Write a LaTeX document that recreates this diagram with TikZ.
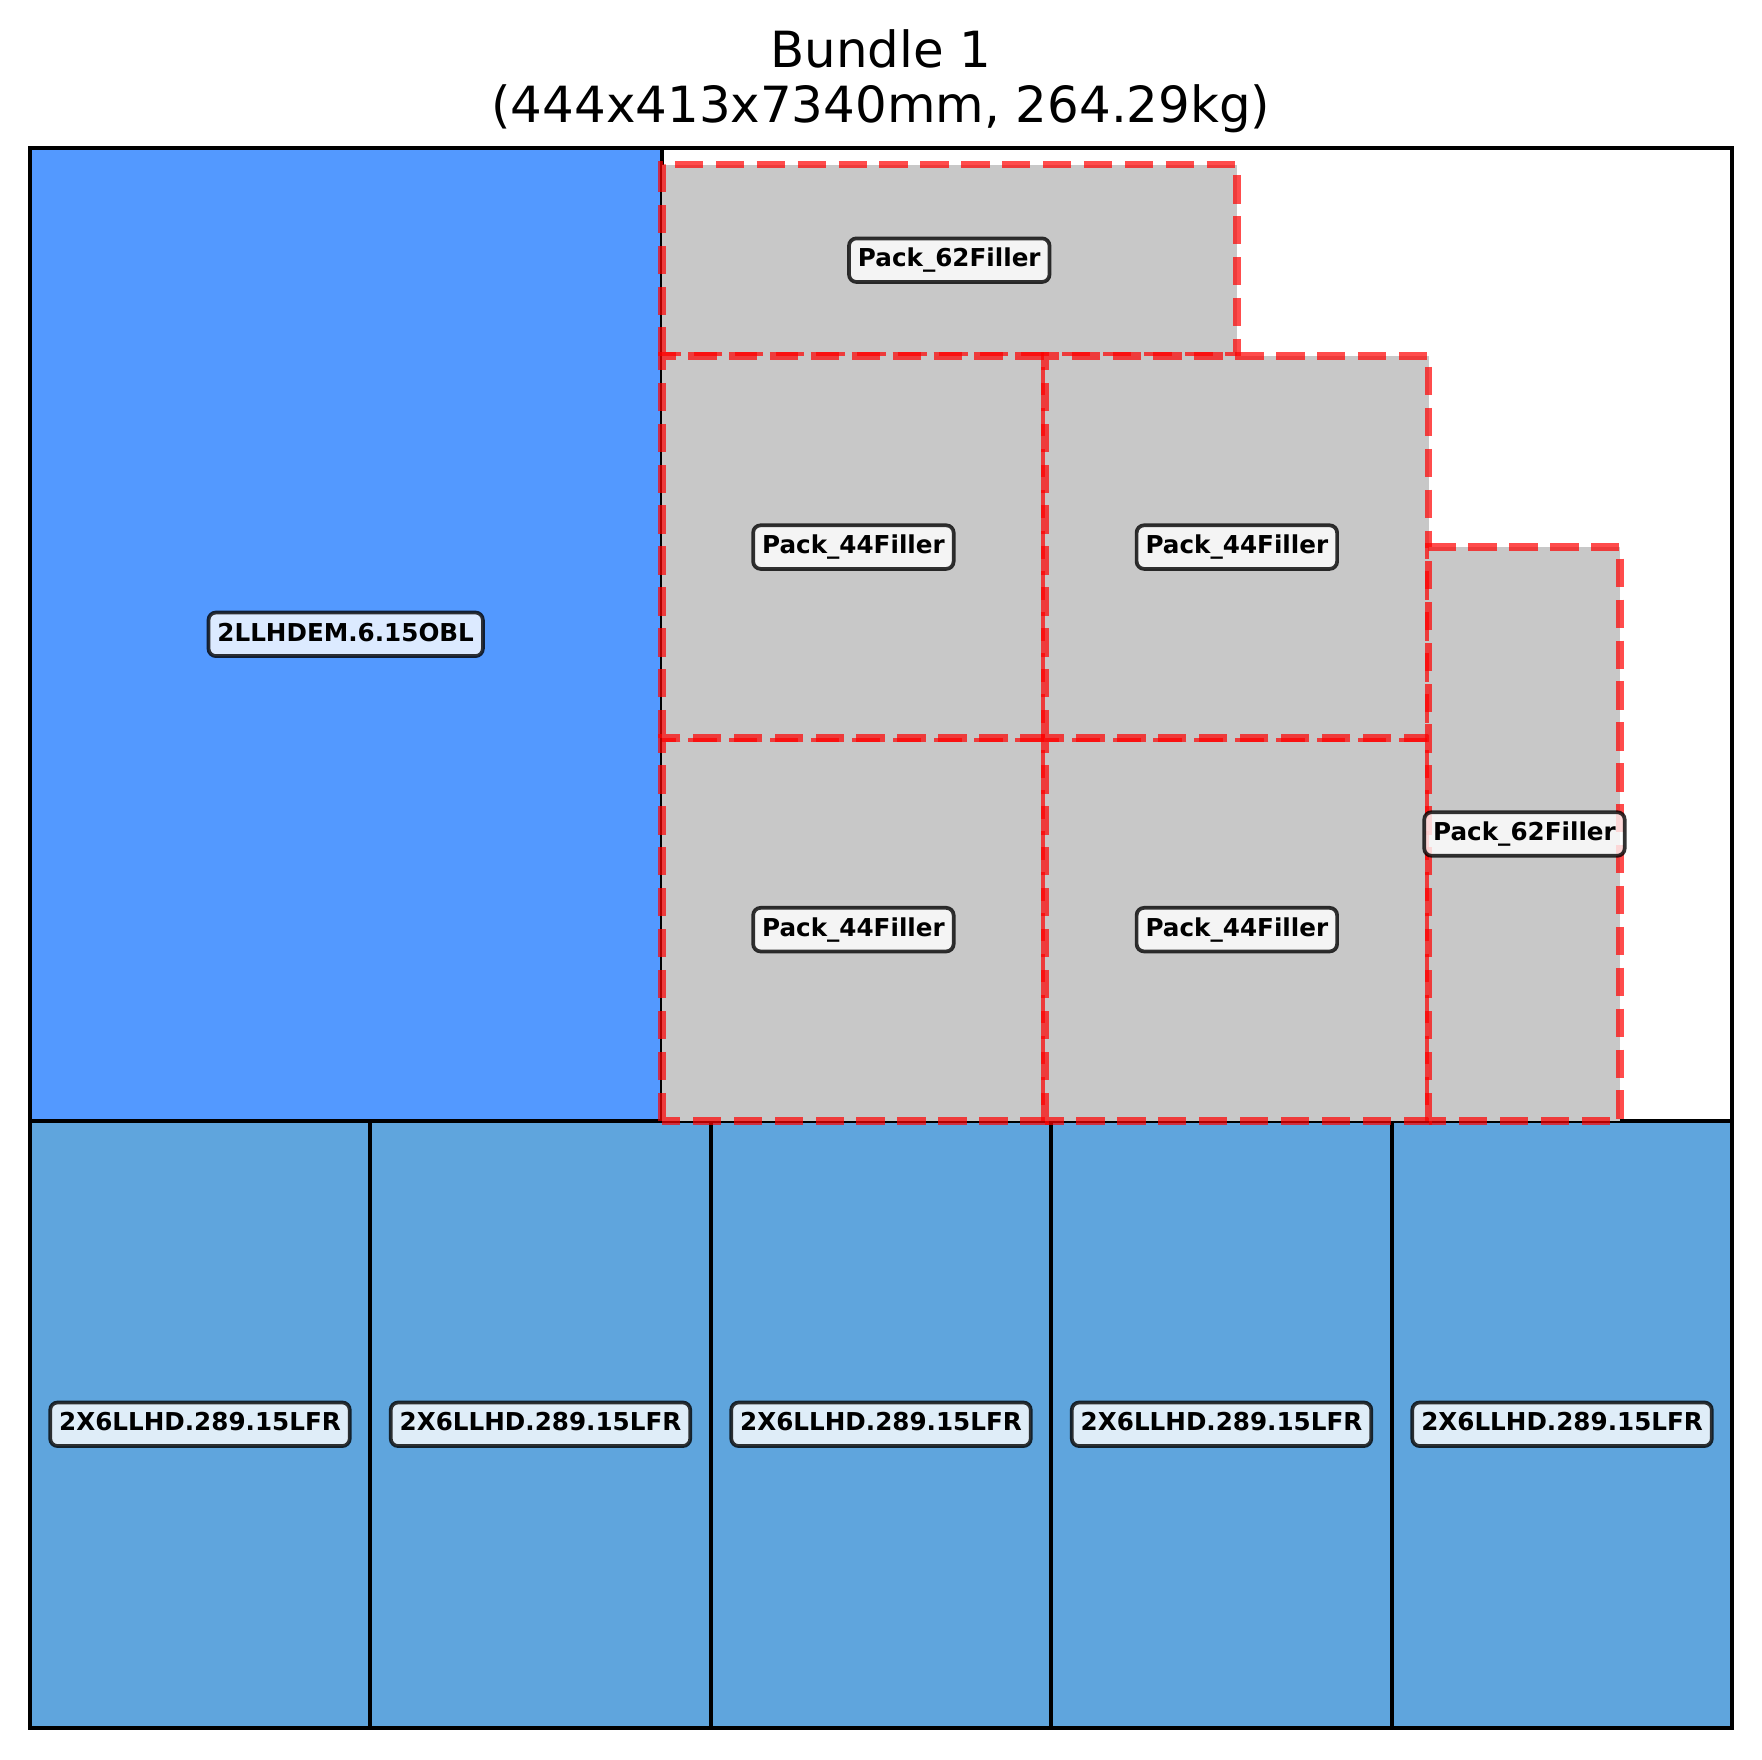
\documentclass[tikz,border=0pt]{standalone}
\usepackage{fontspec}
\setmainfont{DejaVu Sans}
\usepackage{tikz}

\definecolor{bigblue}{HTML}{5399FF}
\definecolor{rowblue}{HTML}{5FA5DD}
\definecolor{fillgray}{HTML}{C8C8C8}

\begin{document}
\begin{tikzpicture}[x=1.2844pt,y=1.2813pt,
  item/.style={draw=black,line width=1.35pt},
  filler/.style={fill=fillgray,draw=red,draw opacity=0.7,line width=2.6pt,dash pattern=on 9.5pt off 4.2pt},
  lbl/.style={draw=black,draw opacity=0.8,fill=white,fill opacity=0.8,text opacity=1,rounded corners=2.5pt,line width=1.25pt,font=\fontsize{8.25}{9}\selectfont\bfseries,inner xsep=3pt,inner ysep=3.5pt,text height=6.05pt,text depth=1.55pt}]
  \useasboundingbox (-7.75,-8.29) rectangle (451.75,451.62);

  % bottom row
  \foreach \i in {0,...,4}
    \draw[item,fill=rowblue] (\i*88.8,0) rectangle ++(88.8,158.6);
  % big item
  \draw[item,fill=bigblue] (0,158.6) rectangle (164.8,413);

  % fillers
  \draw[filler] (164.8,358.6) rectangle ++(150,50);
  \foreach \c in {0,1}
    \foreach \r in {0,1}
      \draw[filler] (164.8+100*\c,158.6+100*\r) rectangle ++(100,100);
  \draw[filler] (364.8,158.6) rectangle ++(50,150);

  % frame
  \draw[line width=1.35pt] (0,0) rectangle (444,413);

  % title
  \draw (222,434) node[anchor=base,font=\fontsize{16.7}{20}\selectfont] (title) {Bundle 1};
  \draw (222,419.5) node[anchor=base,font=\fontsize{16.7}{20}\selectfont] (subtitle) {(444x413x7340mm, 264.29kg)};

  % labels
  \foreach \i in {0,...,4}
    \draw (\i*88.8+44.4,79.3) node[lbl] (row\i) {2X6LLHD.289.15LFR};
  \draw (82.4,285.8) node[lbl] (big) {2LLHDEM.6.15OBL};
  \draw (239.8,383.6) node[lbl] (topfill) {Pack\_62Filler};
  \draw (214.8,308.6) node[lbl] (fillA) {Pack\_44Filler};
  \draw (314.8,308.6) node[lbl] (fillB) {Pack\_44Filler};
  \draw (214.8,208.6) node[lbl] (fillC) {Pack\_44Filler};
  \draw (314.8,208.6) node[lbl] (fillD) {Pack\_44Filler};
  \draw (389.8,233.6) node[lbl] (sidefill) {Pack\_62Filler};
\end{tikzpicture}
\end{document}
